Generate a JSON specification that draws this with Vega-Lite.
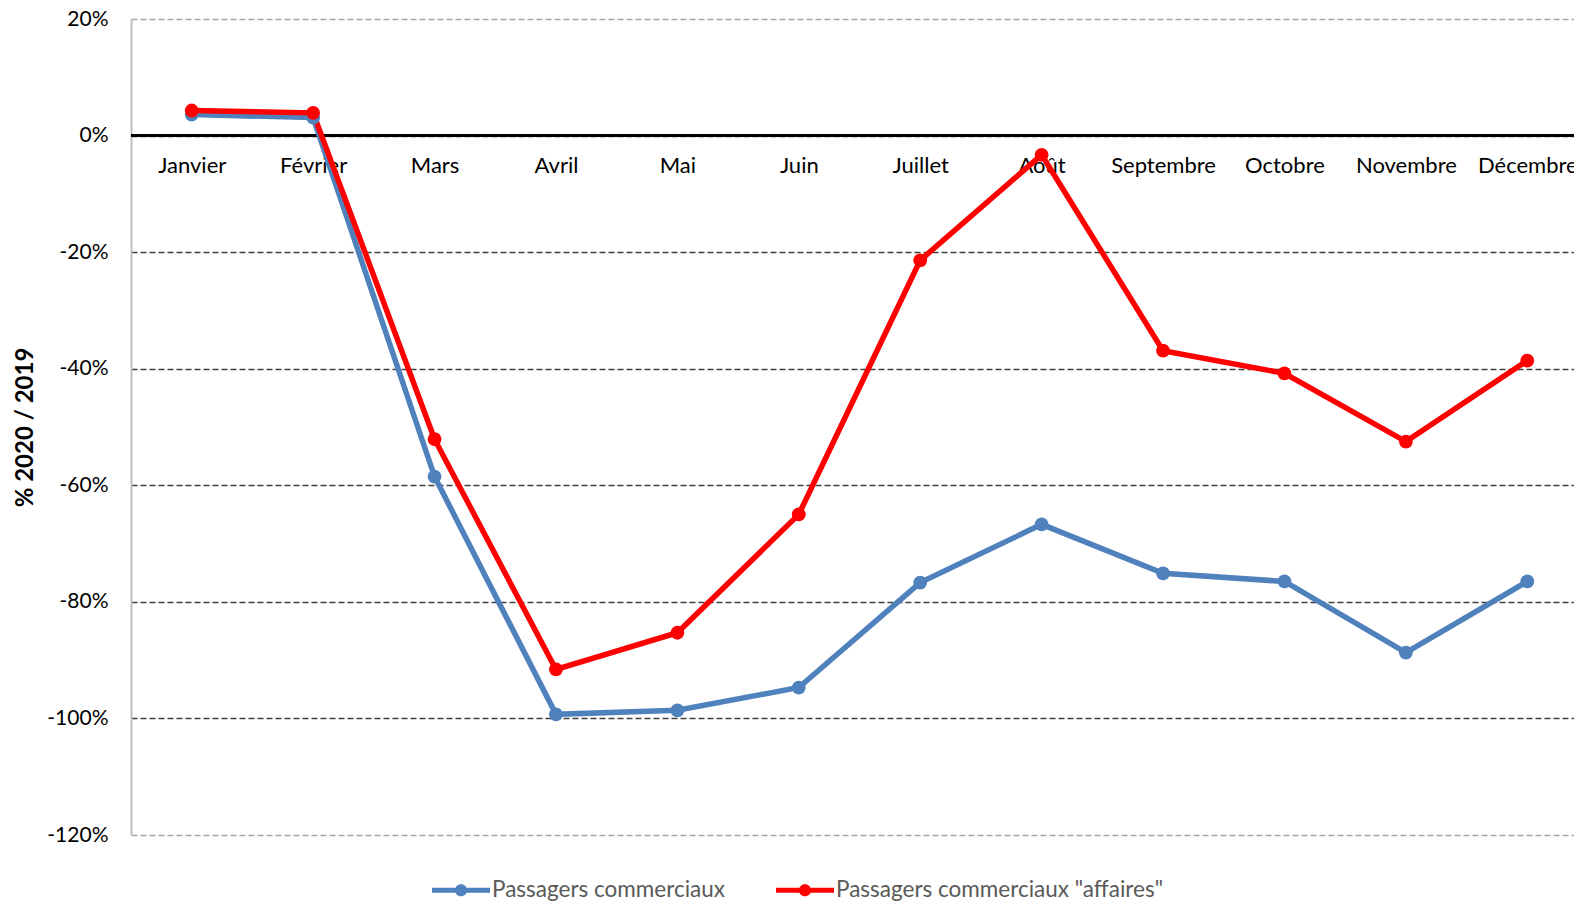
{
  "$schema": "https://vega.github.io/schema/vega-lite/v6.json",
  "autosize": {"type": "none"},
  "padding": {"left": 131, "top": 19, "right": 0, "bottom": 67},
  "width": 1457,
  "height": 816,
  "background": "white",
  "config": {
    "view": {"stroke": null},
    "font": "Lato",
    "axis": {"labelFont": "Lato", "titleFont": "Lato"},
    "legend": {"labelFont": "Lato"}
  },
  "data": {
    "values": [
      {"mois": "Janvier", "serie": "Passagers commerciaux", "valeur": 0.036},
      {"mois": "Février", "serie": "Passagers commerciaux", "valeur": 0.031},
      {"mois": "Mars", "serie": "Passagers commerciaux", "valeur": -0.585},
      {"mois": "Avril", "serie": "Passagers commerciaux", "valeur": -0.993},
      {"mois": "Mai", "serie": "Passagers commerciaux", "valeur": -0.986},
      {"mois": "Juin", "serie": "Passagers commerciaux", "valeur": -0.947},
      {"mois": "Juillet", "serie": "Passagers commerciaux", "valeur": -0.767},
      {"mois": "Août", "serie": "Passagers commerciaux", "valeur": -0.667},
      {"mois": "Septembre", "serie": "Passagers commerciaux", "valeur": -0.751},
      {"mois": "Octobre", "serie": "Passagers commerciaux", "valeur": -0.765},
      {"mois": "Novembre", "serie": "Passagers commerciaux", "valeur": -0.887},
      {"mois": "Décembre", "serie": "Passagers commerciaux", "valeur": -0.765},
      {"mois": "Janvier", "serie": "Passagers commerciaux \"affaires\"", "valeur": 0.043},
      {"mois": "Février", "serie": "Passagers commerciaux \"affaires\"", "valeur": 0.039},
      {"mois": "Mars", "serie": "Passagers commerciaux \"affaires\"", "valeur": -0.521},
      {"mois": "Avril", "serie": "Passagers commerciaux \"affaires\"", "valeur": -0.916},
      {"mois": "Mai", "serie": "Passagers commerciaux \"affaires\"", "valeur": -0.853},
      {"mois": "Juin", "serie": "Passagers commerciaux \"affaires\"", "valeur": -0.650},
      {"mois": "Juillet", "serie": "Passagers commerciaux \"affaires\"", "valeur": -0.214},
      {"mois": "Août", "serie": "Passagers commerciaux \"affaires\"", "valeur": -0.033},
      {"mois": "Septembre", "serie": "Passagers commerciaux \"affaires\"", "valeur": -0.369},
      {"mois": "Octobre", "serie": "Passagers commerciaux \"affaires\"", "valeur": -0.408},
      {"mois": "Novembre", "serie": "Passagers commerciaux \"affaires\"", "valeur": -0.525},
      {"mois": "Décembre", "serie": "Passagers commerciaux \"affaires\"", "valeur": -0.386}
    ]
  },
  "encoding": {
    "x": {
      "field": "mois",
      "type": "ordinal",
      "sort": ["Janvier", "Février", "Mars", "Avril", "Mai", "Juin", "Juillet", "Août", "Septembre", "Octobre", "Novembre", "Décembre"],
      "scale": {"paddingInner": 0, "paddingOuter": 0.5},
      "axis": {
        "title": null,
        "orient": "bottom",
        "offset": -700,
        "domain": false,
        "ticks": false,
        "labelAngle": 0,
        "labelPadding": 20,
        "labelFontSize": 22,
        "labelColor": "#000000",
        "grid": false
      }
    },
    "y": {
      "field": "valeur",
      "type": "quantitative",
      "scale": {"domain": [-1.2, 0.2], "nice": false, "zero": false},
      "axis": {
        "title": "% 2020 / 2019",
        "titleFontSize": 24,
        "titleFontWeight": "bold",
        "titleColor": "#000000",
        "titleX": -106,
        "titleY": 408,
        "titleAngle": -90,
        "titleAlign": "center",
        "titleBaseline": "middle",
        "labelExpr": "replace(format(datum.value, '.0%'), '−', '-')",
        "values": [0.2, 0, -0.2, -0.4, -0.6, -0.8, -1, -1.2],
        "labelFontSize": 21,
        "labelColor": "#000000",
        "labelPadding": 23,
        "ticks": false,
        "domain": true,
        "domainColor": "#BFBFBF",
        "domainWidth": 2,
        "grid": true,
        "gridColor": {"condition": {"test": "datum.value > 0.1 || datum.value < -1.1", "value": "#A6A6A6"}, "value": "#404040"},
        "gridDash": [6, 3],
        "gridWidth": 1.5
      }
    }
  },
  "layer": [
    {
      "mark": {"type": "rule", "color": "#000000", "strokeWidth": 3},
      "encoding": {"y": {"datum": 0}, "x": null}
    },
    {
      "mark": {"type": "line", "strokeWidth": 5.5, "point": {"filled": true, "size": 190, "opacity": 1}},
      "encoding": {
        "color": {
          "field": "serie",
          "type": "nominal",
          "sort": ["Passagers commerciaux", "Passagers commerciaux \"affaires\""],
          "scale": {"domain": ["Passagers commerciaux", "Passagers commerciaux \"affaires\""], "range": ["#4F81BD", "#FF0000"]},
          "legend": {
            "title": null,
            "orient": "none",
            "direction": "horizontal",
            "legendX": 301,
            "legendY": 842,
            "symbolType": "M-1,-0.09 L1,-0.09 L1,0.09 L-1,0.09 Z M0,-0.21 A0.21,0.21 0 1,1 0,0.21 A0.21,0.21 0 1,1 0,-0.21 Z",
            "symbolSize": 3364,
            "symbolStrokeWidth": 0,
            "symbolOpacity": 1,
            "labelFontSize": 22.5,
            "labelLimit": 500,
            "labelColor": "#595959",
            "labelOffset": 2,
            "columnPadding": 50
          }
        },
        "order": {"field": "serie"}
      }
    }
  ]
}
